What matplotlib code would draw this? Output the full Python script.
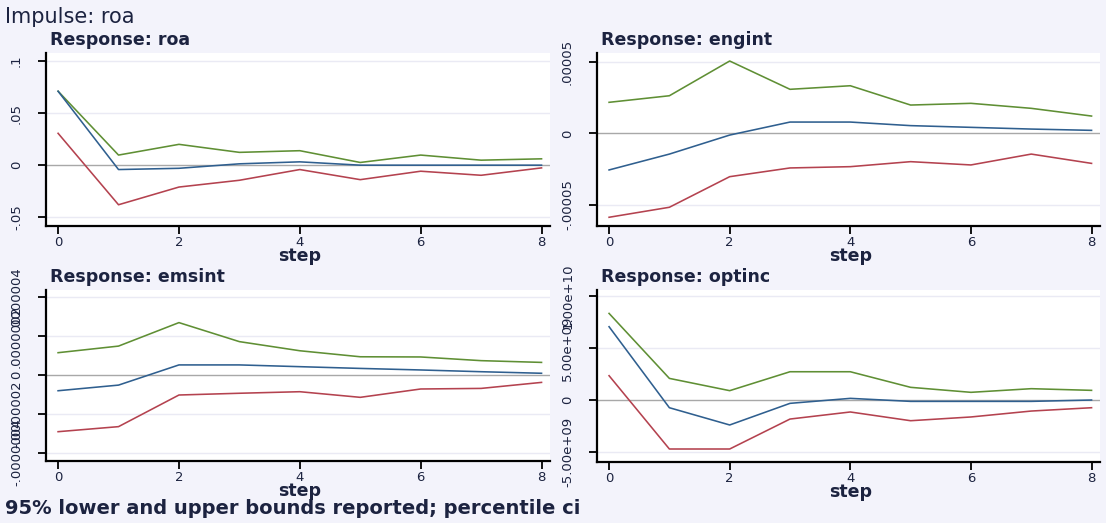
import matplotlib
matplotlib.use("Agg")
import matplotlib.pyplot as plt
import numpy as np

plt.rcParams['font.family'] = ['DejaVu Sans']

steps = [0, 1, 2, 3, 4, 5, 6, 7, 8]

# Response: roa
roa_irf = [0.071, -0.0042, -0.003, 0.0013, 0.0032, 0.0, 0.0, 0.0, 0.0]
roa_lo = [0.0306, -0.038, -0.021, -0.0145, -0.0042, -0.0139, -0.0058, -0.0097, -0.0026]
roa_hi = [0.071, 0.0097, 0.020, 0.0123, 0.0139, 0.0026, 0.0097, 0.0048, 0.0061]

# Response: engint
eng_irf = [-2.56e-5, -1.45e-5, -0.12e-5, 0.79e-5, 0.79e-5, 0.54e-5, 0.42e-5, 0.30e-5, 0.21e-5]
eng_lo = [-5.87e-5, -5.17e-5, -3.03e-5, -2.42e-5, -2.33e-5, -1.98e-5, -2.21e-5, -1.45e-5, -2.10e-5]
eng_hi = [2.17e-5, 2.63e-5, 5.06e-5, 3.08e-5, 3.33e-5, 1.98e-5, 2.10e-5, 1.75e-5, 1.21e-5]

# Response: emsint
ems_irf = [-0.81e-7, -0.52e-7, 0.52e-7, 0.52e-7, 0.43e-7, 0.34e-7, 0.26e-7, 0.17e-7, 0.09e-7]
ems_lo = [-2.92e-7, -2.66e-7, -1.03e-7, -0.94e-7, -0.86e-7, -1.15e-7, -0.72e-7, -0.69e-7, -0.38e-7]
ems_hi = [1.15e-7, 1.49e-7, 2.70e-7, 1.72e-7, 1.25e-7, 0.94e-7, 0.93e-7, 0.74e-7, 0.65e-7]

# Response: optinc
opt_irf = [7.05e9, -0.74e9, -2.40e9, -0.32e9, 0.16e9, -0.13e9, -0.13e9, -0.13e9, 0.0]
opt_lo = [2.34e9, -4.71e9, -4.71e9, -1.83e9, -1.15e9, -1.99e9, -1.63e9, -1.06e9, -0.74e9]
opt_hi = [8.33e9, 2.08e9, 0.90e9, 2.72e9, 2.72e9, 1.22e9, 0.74e9, 1.09e9, 0.93e9]

titles = ["Response: roa", "Response: engint", "Response: emsint", "Response: optinc"]
yticks = [[-0.05, 0, 0.05, 0.1], [-0.00005, 0, 0.00005],
          [-4e-7, -2e-7, 0, 2e-7, 4e-7], [-5e9, 0, 5e9, 1e10]]
yticklabels = [["-.05", "0", ".05", ".1"], ["-.00005", "0", ".00005"],
               ["-.0000004", "-.0000002", "0", ".0000002", ".0000004"],
               ["-5.00e+09", "0", "5.00e+09", "1.00e+10"]]
xticks = [0, 2, 4, 6, 8]

W, H = 1106, 523
BG = '#f3f3fb'
TXT = '#1c2340'
C_IRF = '#2f5f8f'
C_LO = '#b4424f'
C_HI = '#5f8f34'

fig = plt.figure(figsize=(W / 100, H / 100), dpi=100, facecolor=BG)

# pixel boxes: left, right, top, bottom
boxes = [(46, 550, 53, 226), (597, 1100, 53, 226),
         (46, 550, 290, 461), (597, 1100, 290, 462)]
ylims = [(-0.0584, 0.1077), (-6.48e-5, 5.62e-5), (-4.43e-7, 4.38e-7), (-5.96e9, 1.058e10)]
data = [(roa_irf, roa_lo, roa_hi), (eng_irf, eng_lo, eng_hi),
        (ems_irf, ems_lo, ems_hi), (opt_irf, opt_lo, opt_hi)]

for i, (l, r, t, b) in enumerate(boxes):
    ax = fig.add_axes([l / W, 1 - b / H, (r - l) / W, (b - t) / H])
    ax.set_facecolor('white')
    irf, lo, hi = data[i]
    for yv in yticks[i]:
        if yv != 0:
            ax.axhline(yv, color='#eaeaf4', lw=1.0, zorder=0)
    ax.axhline(0, color='#a8a8a8', lw=1.0, zorder=1)
    ax.plot(steps, hi, color=C_HI, lw=1.15, zorder=3)
    ax.plot(steps, irf, color=C_IRF, lw=1.15, zorder=3)
    ax.plot(steps, lo, color=C_LO, lw=1.15, zorder=3)
    ax.set_xlim(-0.2, 8.14)
    ax.set_ylim(*ylims[i])
    ax.set_xticks(xticks)
    ax.set_xticklabels([str(v) for v in xticks])
    ax.set_yticks(yticks[i])
    ax.set_yticklabels(yticklabels[i])
    for s in ['top', 'right']:
        ax.spines[s].set_visible(False)
    for s in ['left', 'bottom']:
        ax.spines[s].set_linewidth(1.6)
        ax.spines[s].set_color('black')
    ax.tick_params(axis='both', direction='out', length=5.5, width=1.3, colors='black',
                   labelcolor=TXT, labelsize=9.5)
    ax.tick_params(axis='y', labelrotation=90, pad=11)
    ax.tick_params(axis='x', pad=1.5)
    for lab in ax.get_yticklabels():
        lab.set_va('center')
    fig.text((l + 4) / W, 1 - (t - 13) / H, titles[i], fontsize=12.5, fontweight='bold',
             color=TXT, ha='left', va='center')
    fig.text(((l + r) / 2 + 2) / W, 1 - (b + 30) / H, "step", fontsize=12.5,
             fontweight='bold', color=TXT, ha='center', va='center')

fig.text(5 / W, 1 - 17 / H, "Impulse: roa", fontsize=15, color=TXT, ha='left', va='center')
fig.text(5 / W, 1 - 509 / H, "95% lower and upper bounds reported; percentile ci",
         fontsize=14, fontweight='bold', color=TXT, ha='left', va='center')

fig.savefig("out.png", dpi=100, facecolor=BG)
